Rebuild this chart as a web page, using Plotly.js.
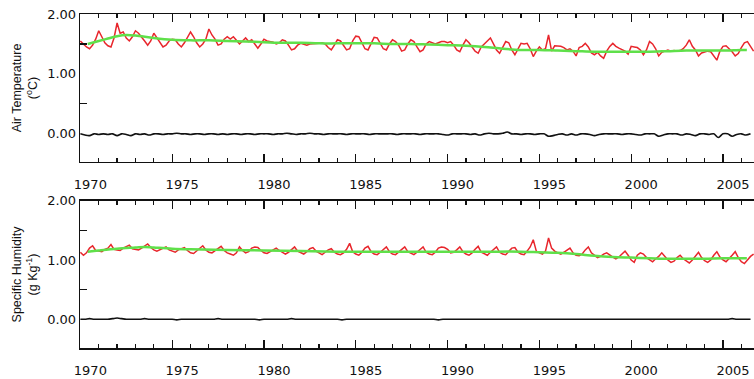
<!DOCTYPE html>
<html>
<head>
<meta charset="utf-8">
<script src="https://cdn.plot.ly/plotly-3.0.1.min.js"></script>
<style>html,body{margin:0;padding:0;background:#fff;}#chart{width:754px;height:379px;}</style>
</head>
<body>
<div id="chart"></div>
<script>
// ---------- DATA ----------
// Bimonthly samples (6 per year) starting Jan 1970
const startYear = 1970;
const samplesPerYear = 6;
const airTempRed = [
  1.55,1.50,1.45,1.42,1.48,1.58,
  1.72,1.62,1.52,1.47,1.45,1.60,
  1.85,1.68,1.70,1.60,1.55,1.62,
  1.72,1.68,1.62,1.55,1.48,1.55,
  1.68,1.60,1.52,1.45,1.48,1.55,
  1.58,1.57,1.50,1.45,1.52,1.60,
  1.70,1.62,1.52,1.45,1.50,1.58,
  1.75,1.65,1.58,1.48,1.50,1.58,
  1.62,1.58,1.62,1.56,1.50,1.55,
  1.60,1.54,1.57,1.50,1.43,1.50,
  1.58,1.55,1.54,1.53,1.50,1.52,
  1.57,1.55,1.48,1.40,1.42,1.48,
  1.51,1.50,1.48,1.50,1.50,1.51,
  1.51,1.52,1.50,1.44,1.40,1.48,
  1.57,1.55,1.48,1.40,1.42,1.55,
  1.63,1.62,1.52,1.42,1.40,1.52,
  1.61,1.60,1.52,1.42,1.40,1.50,
  1.57,1.54,1.48,1.38,1.40,1.50,
  1.57,1.54,1.45,1.37,1.40,1.50,
  1.54,1.52,1.50,1.52,1.54,1.54,
  1.52,1.54,1.48,1.40,1.37,1.48,
  1.57,1.52,1.45,1.38,1.345,1.45,
  1.50,1.55,1.60,1.50,1.40,1.345,
  1.45,1.54,1.52,1.40,1.32,1.42,
  1.51,1.50,1.51,1.42,1.29,1.38,
  1.45,1.40,1.42,1.65,1.38,1.47,
  1.47,1.46,1.44,1.40,1.42,1.38,
  1.30,1.44,1.46,1.51,1.45,1.35,
  1.32,1.36,1.30,1.26,1.38,1.46,
  1.51,1.46,1.43,1.40,1.38,1.33,
  1.46,1.45,1.44,1.40,1.32,1.40,
  1.54,1.50,1.42,1.30,1.36,1.38,
  1.40,1.38,1.39,1.38,1.39,1.42,
  1.48,1.57,1.46,1.40,1.30,1.35,
  1.36,1.38,1.37,1.30,1.23,1.38,
  1.46,1.47,1.42,1.37,1.30,1.34,
  1.44,1.52,1.54,1.45,1.38
];
const humidityRed = [
  1.13,1.08,1.12,1.20,1.24,1.16,
  1.15,1.14,1.18,1.20,1.26,1.18,
  1.17,1.16,1.20,1.22,1.25,1.19,
  1.18,1.17,1.20,1.23,1.27,1.21,
  1.17,1.15,1.17,1.20,1.22,1.17,
  1.15,1.13,1.17,1.19,1.21,1.16,
  1.12,1.11,1.15,1.20,1.24,1.17,
  1.13,1.12,1.16,1.20,1.23,1.16,
  1.12,1.10,1.08,1.12,1.22,1.16,
  1.12,1.14,1.20,1.22,1.21,1.16,
  1.12,1.11,1.14,1.18,1.20,1.16,
  1.13,1.10,1.13,1.18,1.22,1.15,
  1.12,1.10,1.14,1.19,1.21,1.15,
  1.12,1.09,1.13,1.17,1.19,1.13,
  1.10,1.09,1.12,1.18,1.28,1.14,
  1.10,1.08,1.13,1.20,1.23,1.14,
  1.10,1.09,1.13,1.18,1.22,1.14,
  1.10,1.09,1.13,1.18,1.22,1.14,
  1.11,1.09,1.13,1.18,1.22,1.13,
  1.10,1.09,1.13,1.20,1.22,1.21,
  1.18,1.12,1.13,1.17,1.22,1.14,
  1.10,1.08,1.12,1.18,1.23,1.13,
  1.10,1.08,1.13,1.18,1.22,1.13,
  1.10,1.09,1.14,1.20,1.21,1.13,
  1.10,1.09,1.15,1.22,1.34,1.15,
  1.12,1.10,1.15,1.37,1.20,1.15,
  1.12,1.10,1.13,1.17,1.20,1.12,
  1.08,1.07,1.10,1.17,1.22,1.12,
  1.08,1.04,1.06,1.10,1.12,1.08,
  1.05,1.02,1.05,1.10,1.15,1.08,
  1.00,0.96,1.08,1.12,1.10,1.04,
  1.00,0.97,1.02,1.06,1.12,1.05,
  1.00,0.96,0.98,1.04,1.08,1.02,
  0.98,0.95,1.00,1.06,1.13,1.04,
  0.99,0.96,1.00,1.08,1.14,1.05,
  1.00,0.97,1.02,1.08,1.14,1.04,
  0.97,0.94,1.00,1.06,1.10
];

// Smooth trend (green) knots
const airTrendYears = [1970.4,1971,1971.5,1972,1972.5,1973,1974,1975,1976,1977,1978,1979,1980,1981,1982,1983,1984,1985,1986,1987,1988,1989,1990,1991,1992,1993,1994,1995,1996,1997,1998,1999,2000,2001,2002,2003,2004,2005,2006,2006.3];
const airTrend = [1.50,1.55,1.59,1.63,1.65,1.64,1.60,1.57,1.56,1.56,1.55,1.54,1.53,1.52,1.52,1.51,1.51,1.51,1.51,1.50,1.50,1.49,1.48,1.47,1.45,1.42,1.40,1.40,1.39,1.38,1.37,1.37,1.37,1.37,1.38,1.39,1.39,1.39,1.40,1.40];
const humTrendYears = [1970.4,1971,1972,1973,1973.5,1974,1975,1976,1978,1980,1982,1984,1986,1988,1990,1992,1994,1995,1996,1997,1998,1999,2000,2001,2002,2003,2004,2005,2006,2006.3];
const humTrend = [1.14,1.16,1.19,1.21,1.22,1.21,1.19,1.18,1.17,1.16,1.15,1.14,1.14,1.14,1.14,1.14,1.14,1.13,1.12,1.10,1.07,1.05,1.04,1.03,1.02,1.02,1.02,1.03,1.03,1.03];

// Quarterly residual / difference series (black)
const blackPerYear = 4;
const airBlack = [
  0.00,-0.02,-0.03,0.00,
  -0.01,0.00,-0.01,0.00,
  -0.03,0.00,-0.01,-0.03,
  0.00,-0.01,0.00,-0.02,
  0.00,0.00,-0.01,0.00,
  0.00,0.01,0.00,0.00,
  -0.01,0.00,0.00,-0.01,
  0.00,0.00,-0.01,0.00,
  -0.01,0.00,0.00,-0.01,
  0.00,0.00,-0.01,0.00,
  0.00,0.00,-0.01,0.00,
  0.00,0.01,0.00,-0.01,
  0.00,0.00,0.01,0.00,
  0.00,-0.01,0.00,0.00,
  0.00,0.00,-0.01,0.00,
  0.00,0.00,0.00,-0.01,
  0.00,0.00,0.00,0.00,
  0.00,-0.01,0.00,0.00,
  0.00,0.00,-0.01,0.00,
  0.00,0.00,0.00,-0.01,
  -0.02,0.00,0.00,0.00,
  0.00,-0.01,0.00,-0.02,
  0.00,0.01,0.00,0.00,
  0.01,0.03,0.00,0.00,
  -0.01,0.00,0.00,-0.01,
  0.00,0.00,-0.04,-0.03,
  -0.01,0.00,-0.02,0.00,
  -0.02,0.00,0.00,-0.01,
  -0.03,-0.01,0.00,0.00,
  0.00,0.00,-0.01,0.00,
  0.00,-0.01,-0.02,0.00,
  0.00,0.00,-0.04,-0.02,
  0.00,0.00,0.00,-0.02,
  0.00,-0.01,-0.03,0.00,
  0.00,-0.01,0.00,-0.06,
  0.00,0.00,-0.04,-0.01,
  0.00,-0.02,0.00
];
const humBlack = [
  0.00,0.00,0.01,0.00,
  0.00,0.00,0.00,0.01,
  0.02,0.01,0.00,0.00,
  0.00,0.00,0.01,0.00,
  0.00,0.00,0.00,0.00,
  0.00,-0.01,0.00,0.00,
  0.00,0.00,0.00,0.00,
  0.00,0.00,0.01,0.00,
  0.00,0.00,0.00,0.00,
  0.00,0.00,0.00,-0.01,
  0.00,0.00,0.00,0.00,
  0.00,0.00,0.01,0.00,
  0.00,0.00,0.00,0.00,
  0.00,0.00,0.00,0.00,
  0.00,-0.01,0.00,0.00,
  0.00,0.00,0.00,0.00,
  0.00,0.00,0.00,0.00,
  0.00,0.00,0.00,0.00,
  0.00,0.00,0.00,0.00,
  0.00,0.00,-0.01,0.00,
  0.00,0.00,0.00,0.00,
  0.00,0.00,0.00,0.00,
  0.00,0.00,0.00,0.00,
  0.00,0.00,0.00,0.00,
  0.00,0.00,0.00,0.00,
  0.00,0.00,0.00,0.00,
  0.00,0.00,0.00,0.00,
  0.00,0.00,0.00,0.00,
  0.00,0.00,0.00,0.00,
  0.00,0.00,0.00,0.00,
  0.00,0.00,0.00,0.00,
  0.00,0.00,0.00,0.00,
  0.00,0.00,0.00,0.00,
  0.00,0.00,0.00,0.00,
  0.00,0.00,0.00,0.00,
  0.00,0.00,0.01,0.00,
  0.00,0.00,0.00
];

const xTickVals = [1970,1975,1980,1985,1990,1995,2000,2005];
const xTickText = ['1970','1975','1980','1985','1990','1995','2000','2005'];
const yTickVals = [0,1,2];
const yTickText = ['0.00','1.00','2.00'];
const airTitle = 'Air Temperature<br>(<sup>o</sup>C)';
const humTitle = 'Specific Humidity<br>(g Kg<sup>-1</sup>)';

// ---------- BUILD ----------
function timeAxis(n, perYear) {
  const t = [];
  for (let i = 0; i < n; i++) t.push(startYear + i / perYear);
  return t;
}
const tRedAir = timeAxis(airTempRed.length, samplesPerYear);
const tRedHum = timeAxis(humidityRed.length, samplesPerYear);
const tBlkAir = timeAxis(airBlack.length, blackPerYear);
const tBlkHum = timeAxis(humBlack.length, blackPerYear);

const RED = '#e8262c', GREEN = '#5fe04a', BLACK = '#111';

const traces = [
  {x: tRedAir, y: airTempRed, xaxis:'x', yaxis:'y', mode:'lines', line:{color:RED, width:1.5}},
  {x: airTrendYears, y: airTrend, xaxis:'x', yaxis:'y', mode:'lines', line:{color:GREEN, width:2.5, shape:'spline'}},
  {x: tBlkAir, y: airBlack, xaxis:'x', yaxis:'y', mode:'lines', line:{color:BLACK, width:1.6, shape:'spline'}},
  {x: tRedHum, y: humidityRed, xaxis:'x2', yaxis:'y2', mode:'lines', line:{color:RED, width:1.5}},
  {x: humTrendYears, y: humTrend, xaxis:'x2', yaxis:'y2', mode:'lines', line:{color:GREEN, width:2.5, shape:'spline'}},
  {x: tBlkHum, y: humBlack, xaxis:'x2', yaxis:'y2', mode:'lines', line:{color:BLACK, width:1.6, shape:'spline'}}
];

const W = 754, H = 379;
const tickFont = {family:'DejaVu Sans, sans-serif', size:13, color:'#111'};
const titleFont = {family:'Liberation Sans, Arial, sans-serif', size:12.5, color:'#111'};

function xAxis(anchor) {
  return {
    anchor: anchor, domain:[0,1], range:[1969.98, 2006.69],
    showgrid:false, zeroline:false, showline:true, linecolor:'#111', linewidth:1.3,
    mirror:'ticks', ticks:'inside', ticklen:8, tickwidth:1.3, tickcolor:'#111',
    tickvals: xTickVals, ticktext: xTickText, tickfont: tickFont,
    ticklabelstandoff: 10, ticklabelshift: 10,
    minor:{ticks:'inside', ticklen:4, tickwidth:1.2, tickcolor:'#111', dtick:1, tick0:1970, showgrid:false}
  };
}
function yAxis(anchor, dom, rng, title) {
  return {
    anchor: anchor, domain: dom, range: rng,
    showgrid:false, zeroline:false, showline:true, linecolor:'#111', linewidth:1.3,
    ticks:'inside', ticklen:0, tickcolor:'#111',
    tickvals: yTickVals, ticktext: yTickText, tickfont: tickFont,
    minor:{ticks:'inside', ticklen:7, tickwidth:1.2, tickcolor:'#111', tickvals:[0.5,1.5], showgrid:false},
    title:{text:title, font:titleFont, standoff:6}
  };
}

const layout = {
  width: W, height: H,
  margin:{l:80, r:0, t:0, b:0},
  paper_bgcolor:'#fff', plot_bgcolor:'#fff',
  showlegend:false,
  xaxis: xAxis('y'),
  yaxis: yAxis('x', [(H-162)/H, (H-14)/H], [-0.47, 2.0], airTitle),
  xaxis2: xAxis('y2'),
  yaxis2: yAxis('x2', [(H-348.3)/H, (H-200.7)/H], [-0.49, 2.0], humTitle)
};

Plotly.newPlot('chart', traces, layout, {displayModeBar:false, staticPlot:true});
</script>
</body>
</html>
